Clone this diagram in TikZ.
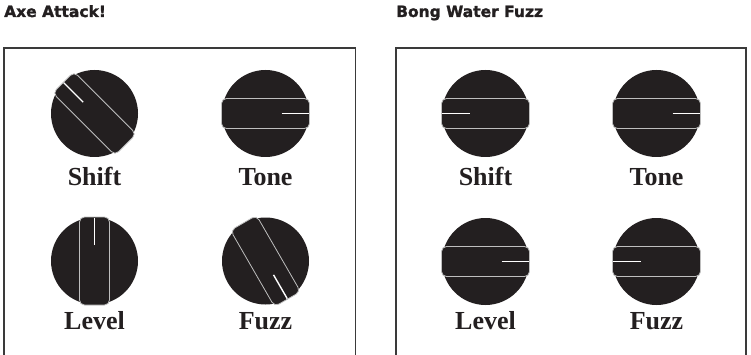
\documentclass[tikz,border=0pt]{standalone}
\usepackage{fontspec}
\newfontfamily\titlefont{DejaVu Sans}[BoldFeatures={FakeBold=1.5}]
\newfontfamily\labelfont{Liberation Serif}
\definecolor{knobblack}{HTML}{231F20}
\definecolor{barline}{HTML}{BEBEBE}
\definecolor{panelgray}{HTML}{3A3A3A}
\begin{document}
\begin{tikzpicture}[x=1pt,y=-1pt,
    knob/.style={fill=knobblack},
    bar/.style={draw=barline,fill=knobblack,line width=.8pt,rounded corners=5pt},
    tick/.style={draw=white,line width=1.4pt},
    knoblabel/.style={anchor=base,inner sep=0pt,text=knobblack,font=\labelfont\bfseries\fontsize{26}{28}\selectfont},
    title/.style={anchor=base west,inner sep=0pt,text=knobblack,font=\titlefont\bfseries\fontsize{15.5}{18}\selectfont},
    panel/.style={draw=panelgray,line width=1.2pt}]
        \useasboundingbox (0,0) rectangle (751,355);
        \node[title] (axe) at (4,17) {Axe Attack!};
        \node[title] (bong) at (396,17) {Bong Water Fuzz};
        \draw[panel] (4,360) |- (355.5,48) -- (355.5,360);
        \draw[panel] (396,360) |- (746,48) -- (746,360);
        \foreach \x/\y/\a/\l/\t/\n in {94.5/113.5/135/186/Shift/axeshift,265.5/113.5/0/186/Tone/axetone,
            94.5/261/90/329/Level/axelevel,265.5/261/-60/329/Fuzz/axefuzz,
            485.5/113.5/180/186/Shift/bongshift,656.5/113.5/0/186/Tone/bongtone,
            485.5/261.5/0/329/Level/bonglevel,656.5/261.5/180/329/Fuzz/bongfuzz}{
            \fill[knob] (\x,\y) circle(43.5);
            \begin{scope}[shift={(\x,\y)},rotate=\a]
                \draw[bar] (-44,-15) rectangle (44,15);
                \draw[tick] (16,0) -- (43.5,0);
            \end{scope}
            \node[knoblabel] (\n) at (\x,\l) {\t};
        }
    \end{tikzpicture}
\end{document}
